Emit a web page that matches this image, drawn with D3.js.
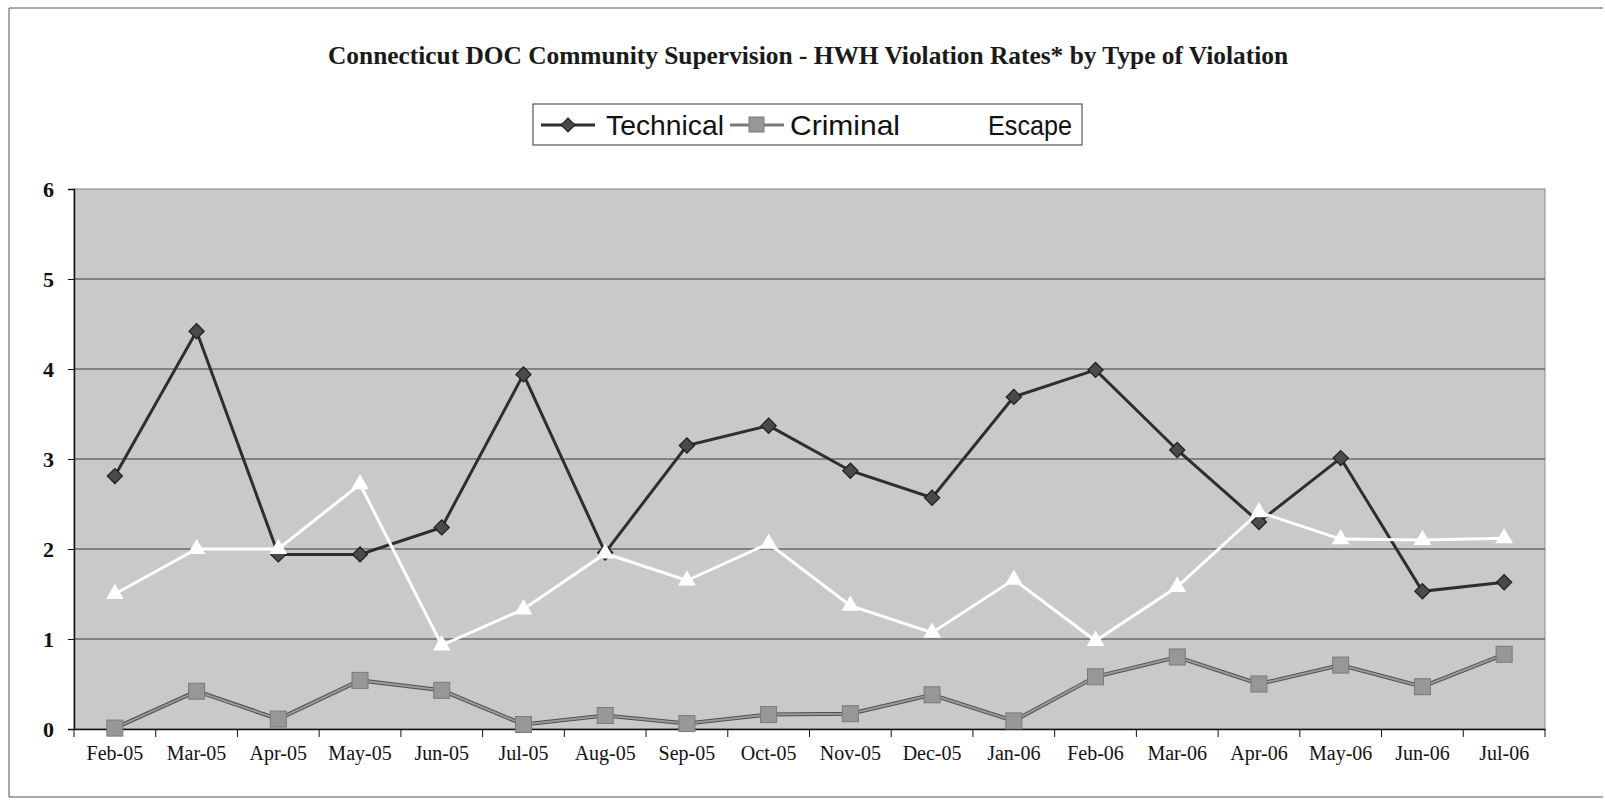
<!DOCTYPE html>
<html>
<head>
<meta charset="utf-8">
<script src="https://cdn.jsdelivr.net/npm/d3@7"></script>
<style>
  body { margin: 0; background: #fff; }
</style>
</head>
<body>
<div id="chart"></div>
<script>
// values
var months = ['Feb-05', 'Mar-05', 'Apr-05', 'May-05', 'Jun-05', 'Jul-05', 'Aug-05', 'Sep-05', 'Oct-05',
  'Nov-05', 'Dec-05', 'Jan-06', 'Feb-06', 'Mar-06', 'Apr-06', 'May-06', 'Jun-06', 'Jul-06'];
var technical = [2.81, 4.42, 1.94, 1.94, 2.24, 3.94, 1.96, 3.15, 3.37, 2.87, 2.57, 3.69, 3.99, 3.10, 2.30, 3.01, 1.53, 1.63];
var criminal = [0.01, 0.42, 0.11, 0.54, 0.43, 0.05, 0.15, 0.06, 0.16, 0.17, 0.38, 0.09, 0.58, 0.80, 0.50, 0.71, 0.47, 0.83];
var escape = [1.50, 2.00, 2.00, 2.72, 0.93, 1.33, 1.95, 1.65, 2.06, 1.37, 1.07, 1.66, 0.98, 1.58, 2.41, 2.11, 2.10, 2.12];
var yTicks = [0, 1, 2, 3, 4, 5, 6];
var seriesNames = ['Technical', 'Criminal', 'Escape'];

var W = 1605, H = 802;
var margin = {top: 189, right: 60, bottom: 73, left: 74};

var svg = d3.select('#chart')
  .append('svg')
  .attr('width', W)
  .attr('height', H);

// page frame (left, top, bottom edges of the scan)
svg.append('path')
  .attr('d', 'M' + (W - 2) + ',8 H9 V797 H' + (W - 2))
  .style('fill', 'none')
  .style('stroke', '#555')
  .style('stroke-width', 1);

var x = d3.scaleBand()
  .domain(months)
  .range([margin.left, W - margin.right]);

var y = d3.scaleLinear()
  .domain([0, 6])
  .range([H - margin.bottom, margin.top]);

// plot area
svg.append('rect')
  .attr('x', margin.left)
  .attr('y', margin.top)
  .attr('width', W - margin.right - margin.left)
  .attr('height', H - margin.bottom - margin.top)
  .style('fill', '#c9c9c9')
  .style('stroke', '#8a8a8a')
  .style('stroke-width', 1);

// gridlines
svg.append('g')
  .selectAll('line')
  .data(yTicks.slice(1, -1))
  .enter()
  .append('line')
  .attr('x1', margin.left)
  .attr('x2', W - margin.right)
  .attr('y1', d => y(d))
  .attr('y2', d => y(d))
  .style('stroke', '#3a3a3a')
  .style('stroke-width', 1);

// axes
var yAxis = svg.append('g')
  .attr('transform', 'translate(' + margin.left + ',0)')
  .call(d3.axisLeft(y).tickValues(yTicks).tickFormat(d3.format('d')).tickSize(6).tickPadding(14));
yAxis.selectAll('text')
  .style('font-family', '"Liberation Serif", "Times New Roman", serif')
  .style('font-weight', 'bold')
  .style('font-size', '22px')
  .style('fill', '#111');

var xAxis = svg.append('g')
  .attr('transform', 'translate(0,' + (H - margin.bottom) + ')')
  .call(d3.axisBottom(x).tickSize(0).tickPadding(17));
xAxis.selectAll('text')
  .style('font-family', '"Liberation Serif", "Times New Roman", serif')
  .style('font-size', '20px')
  .style('fill', '#111');
svg.selectAll('.domain').style('stroke', '#111').style('stroke-width', 1.5);
svg.selectAll('.tick line').style('stroke', '#111');

// tick marks between categories
svg.append('g')
  .selectAll('line')
  .data(months.concat(['end']))
  .enter()
  .append('line')
  .attr('x1', (d, i) => margin.left + i * x.step())
  .attr('x2', (d, i) => margin.left + i * x.step())
  .attr('y1', H - margin.bottom)
  .attr('y2', H - margin.bottom + 8)
  .style('stroke', '#111');

var cx = d => x(d) + x.bandwidth() / 2;

function drawLine(values, color, width) {
  var line = d3.line()
    .x((d, i) => cx(months[i]))
    .y(d => y(d));
  svg.append('path')
    .datum(values)
    .attr('d', line)
    .style('fill', 'none')
    .style('stroke', color)
    .style('stroke-width', width);
}

// Technical
drawLine(technical, '#2e2e2e', 3);
svg.append('g').selectAll('path')
  .data(technical)
  .enter()
  .append('path')
  .attr('d', d3.symbol().type(d3.symbolSquare).size(115))
  .attr('transform', (d, i) => 'translate(' + cx(months[i]) + ',' + y(d) + ') rotate(45)')
  .style('fill', '#4a4a4a')
  .style('stroke', '#1e1e1e')
  .style('stroke-width', 1.2);

// Criminal
drawLine(criminal, '#4f4f4f', 4);
drawLine(criminal, '#9a9a9a', 2);
svg.append('g').selectAll('rect')
  .data(criminal)
  .enter()
  .append('rect')
  .attr('x', (d, i) => cx(months[i]) - 8)
  .attr('y', d => y(d) - 8)
  .attr('width', 16)
  .attr('height', 16)
  .style('fill', '#979797')
  .style('stroke', '#7a7a7a')
  .style('stroke-width', 1);

// Escape
drawLine(escape, '#ffffff', 3);
svg.append('g').selectAll('path')
  .data(escape)
  .enter()
  .append('path')
  .attr('d', d3.symbol().type(d3.symbolTriangle).size(135))
  .attr('transform', (d, i) => 'translate(' + cx(months[i]) + ',' + y(d) + ')')
  .style('fill', '#ffffff');

// title
svg.append('text')
  .attr('x', 808)
  .attr('y', 64)
  .attr('text-anchor', 'middle')
  .attr('textLength', 960)
  .attr('lengthAdjust', 'spacingAndGlyphs')
  .style('font-family', '"Liberation Serif", "Times New Roman", serif')
  .style('font-weight', 'bold')
  .style('font-size', '25px')
  .style('fill', '#1a1a1a')
  .text('Connecticut DOC Community Supervision - HWH Violation Rates* by Type of Violation');

// legend
var legend = svg.append('g');
legend.append('rect')
  .attr('x', 533).attr('y', 104)
  .attr('width', 549).attr('height', 41)
  .style('fill', '#fff')
  .style('stroke', '#333')
  .style('stroke-width', 1);

var legendX = [541, 730, 930];
var legendText = [606, 790, 988];
var legendLen = [118, 110, 84];
var ly = 125;
legendX.forEach(function(lx, i) {
  var col = i === 0 ? '#2e2e2e' : i === 1 ? '#7a7a7a' : '#ffffff';
  legend.append('line')
    .attr('x1', lx).attr('x2', lx + 54)
    .attr('y1', ly).attr('y2', ly)
    .style('stroke', col)
    .style('stroke-width', 3);
  if (i === 0) {
    legend.append('path')
      .attr('d', d3.symbol().type(d3.symbolSquare).size(100))
      .attr('transform', 'translate(' + (lx + 27) + ',' + ly + ') rotate(45)')
      .style('fill', '#4a4a4a').style('stroke', '#1e1e1e');
  } else if (i === 1) {
    legend.append('rect')
      .attr('x', lx + 19).attr('y', ly - 8)
      .attr('width', 15).attr('height', 15)
      .style('fill', '#979797').style('stroke', '#7a7a7a');
  } else {
    legend.append('path')
      .attr('d', d3.symbol().type(d3.symbolTriangle).size(110))
      .attr('transform', 'translate(' + (lx + 27) + ',' + ly + ')')
      .style('fill', '#ffffff');
  }
  legend.append('text')
    .attr('x', legendText[i])
    .attr('y', ly + 10)
    .attr('textLength', legendLen[i])
    .attr('lengthAdjust', 'spacingAndGlyphs')
    .style('font-family', '"Liberation Sans", Arial, sans-serif')
    .style('font-size', '28px')
    .style('fill', '#111')
    .text(seriesNames[i]);
});
</script>
</body>
</html>
